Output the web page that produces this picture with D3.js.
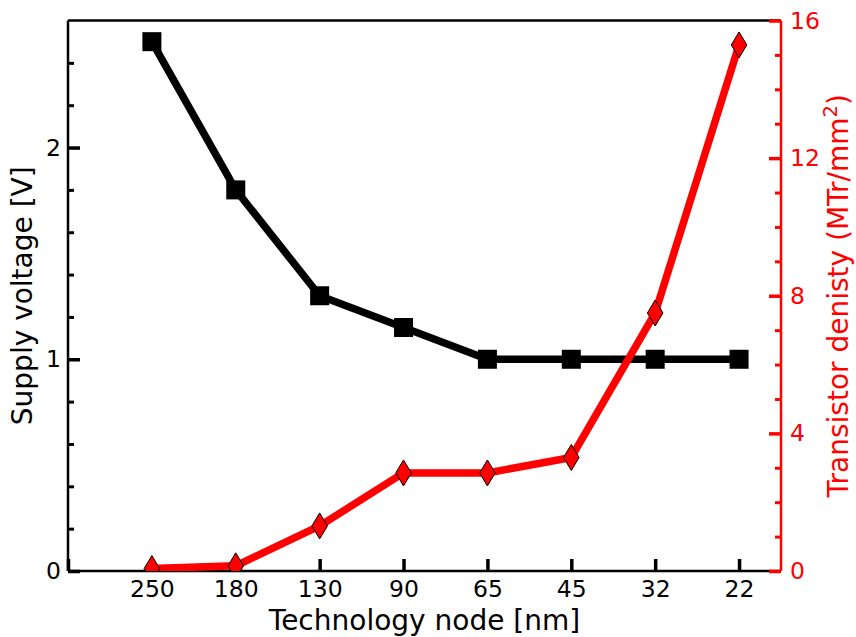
<!DOCTYPE html>
<html>
<head>
<meta charset="utf-8">
<script src="https://cdn.jsdelivr.net/npm/d3@7"></script>
<style>
  html, body { margin: 0; padding: 0; background: #fff; }
  text { font-family: "DejaVu Sans", sans-serif; }
</style>
</head>
<body>
<svg id="chart" width="856" height="637"></svg>
<script>
// Technology nodes (nm), left to right
const nodes = ["250", "180", "130", "90", "65", "45", "32", "22"];
// Supply voltage per node [V]
const supplyVoltage = [2.5, 1.8, 1.3, 1.15, 1.0, 1.0, 1.0, 1.0];
// Transistor density per node [MTr/mm²]
const density = [0.07, 0.15, 1.31, 2.85, 2.85, 3.30, 7.50, 15.29];
// Axis ticks
const voltageMajor = [0, 1, 2];
const voltageMinor = [0.2, 0.4, 0.6, 0.8, 1.2, 1.4, 1.6, 1.8, 2.2, 2.4];
const densityMajor = [0, 4, 8, 12, 16];
const densityMinor = [1, 2, 3, 5, 6, 7, 9, 10, 11, 13, 14, 15];
const xTickPositions = [-1, 0, 1, 2, 3, 4, 5, 6, 7];

const W = 856, H = 637;
const plot = { left: 68, right: 781, top: 20.5, bottom: 571 };
const RED = "#ff0000";
const tickFont = 23.5, titleFont = 28;

const svg = d3.select("#chart");

const x = d3.scaleLinear().domain([-1, 7.5]).range([plot.left, plot.right]);
const yL = d3.scaleLinear().domain([0, 2.6]).range([plot.bottom, plot.top]);
const yR = d3.scaleLinear().domain([0, 16]).range([plot.bottom, plot.top]);

svg.append("defs").append("clipPath").attr("id", "plotClip")
  .append("rect")
  .attr("x", plot.left).attr("y", plot.top)
  .attr("width", plot.right - plot.left).attr("height", plot.bottom - plot.top);

// ---- supply voltage series (black squares) ----
const gV = svg.append("g").attr("clip-path", "url(#plotClip)");
const vPts = nodes.map((n, i) => [i, supplyVoltage[i]]);
gV.append("path")
  .datum(vPts)
  .attr("fill", "none").attr("stroke", "#000").attr("stroke-width", 7.5)
  .attr("stroke-linejoin", "round")
  .attr("d", d3.line().x(d => x(d[0])).y(d => yL(d[1])));
const sq = 19;
gV.selectAll("rect.sq").data(vPts).join("rect").attr("class", "sq")
  .attr("x", d => x(d[0]) - sq / 2).attr("y", d => yL(d[1]) - sq / 2)
  .attr("width", sq).attr("height", sq).attr("fill", "#000");

// ---- left axis ----
const leftAxis = svg.append("g").attr("transform", `translate(${plot.left},0)`)
  .call(d3.axisLeft(yL).tickValues(voltageMajor).tickFormat(d3.format("d"))
    .tickSizeInner(-12).tickSizeOuter(0).tickPadding(7));
leftAxis.select(".domain").remove();
leftAxis.selectAll(".tick line").attr("stroke", "#000").attr("stroke-width", 3.5);
leftAxis.selectAll(".tick text").attr("font-size", tickFont).attr("fill", "#000")
  .attr("font-family", "DejaVu Sans");
const leftMinor = svg.append("g").attr("transform", `translate(${plot.left},0)`)
  .call(d3.axisLeft(yL).tickValues(voltageMinor).tickFormat("")
    .tickSizeInner(-6).tickSizeOuter(0));
leftMinor.select(".domain").remove();
leftMinor.selectAll(".tick line").attr("stroke", "#000").attr("stroke-width", 3);

// ---- bottom axis ----
const bottomAxis = svg.append("g").attr("transform", `translate(0,${plot.bottom})`)
  .call(d3.axisBottom(x).tickValues(xTickPositions)
    .tickFormat(d => (d >= 0 ? nodes[d] : ""))
    .tickSizeInner(-12).tickSizeOuter(0));
bottomAxis.select(".domain").remove();
bottomAxis.selectAll(".tick line").attr("stroke", "#000").attr("stroke-width", 3.5);
bottomAxis.selectAll(".tick text").attr("font-size", tickFont).attr("fill", "#000")
  .attr("font-family", "DejaVu Sans").attr("y", 26).attr("dy", 0);

// ---- frame (left, top, bottom spines) ----
const frame = svg.append("g").attr("stroke", "#000").attr("stroke-width", 2.5).attr("fill", "none");
frame.append("line").attr("x1", plot.left).attr("x2", plot.left).attr("y1", plot.top).attr("y2", plot.bottom);
frame.append("line").attr("x1", plot.left).attr("x2", plot.right).attr("y1", plot.top).attr("y2", plot.top);
frame.append("line").attr("x1", plot.left).attr("x2", plot.right).attr("y1", plot.bottom).attr("y2", plot.bottom);

// ---- transistor density series (red diamonds) ----
const gD = svg.append("g").attr("clip-path", "url(#plotClip)");
const dPts = nodes.map((n, i) => [i, density[i]]);
gD.append("path")
  .datum(dPts)
  .attr("fill", "none").attr("stroke", RED).attr("stroke-width", 7.5)
  .attr("stroke-linejoin", "round")
  .attr("d", d3.line().x(d => x(d[0])).y(d => yR(d[1])));
const dh = 13, dw = 7.8;
gD.selectAll("path.dm").data(dPts).join("path").attr("class", "dm")
  .attr("d", d => {
    const cx = x(d[0]), cy = yR(d[1]);
    return `M${cx},${cy - dh}L${cx + dw},${cy}L${cx},${cy + dh}L${cx - dw},${cy}Z`;
  })
  .attr("fill", RED).attr("stroke", "#000").attr("stroke-width", 1);

// ---- right axis (red) ----
const rightAxis = svg.append("g").attr("transform", `translate(${plot.right},0)`)
  .call(d3.axisRight(yR).tickValues(densityMajor).tickFormat(d3.format("d"))
    .tickSizeInner(-12).tickSizeOuter(0).tickPadding(9));
rightAxis.select(".domain").remove();
rightAxis.selectAll(".tick line").attr("stroke", RED).attr("stroke-width", 3.5);
rightAxis.selectAll(".tick text").attr("font-size", tickFont).attr("fill", RED)
  .attr("font-family", "DejaVu Sans");
const rightMinor = svg.append("g").attr("transform", `translate(${plot.right},0)`)
  .call(d3.axisRight(yR).tickValues(densityMinor).tickFormat("")
    .tickSizeInner(-6).tickSizeOuter(0));
rightMinor.select(".domain").remove();
rightMinor.selectAll(".tick line").attr("stroke", RED).attr("stroke-width", 3);
svg.append("line")
  .attr("x1", plot.right).attr("x2", plot.right).attr("y1", plot.top).attr("y2", plot.bottom)
  .attr("stroke", RED).attr("stroke-width", 2.5);

// ---- axis titles ----
const midY = (plot.top + plot.bottom) / 2;
svg.append("text")
  .attr("transform", `translate(32,${midY}) rotate(-90)`)
  .attr("text-anchor", "middle").attr("font-size", titleFont).attr("fill", "#000")
  .text("Supply voltage [V]");
svg.append("text")
  .attr("x", (plot.left + plot.right) / 2).attr("y", 630)
  .attr("text-anchor", "middle").attr("font-size", titleFont).attr("fill", "#000")
  .text("Technology node [nm]");
const rt = svg.append("text")
  .attr("transform", `translate(848,${midY}) rotate(-90)`)
  .attr("text-anchor", "middle").attr("font-size", titleFont).attr("fill", RED);
rt.append("tspan").text("Transistor denisty (MTr/mm");
rt.append("tspan").attr("dy", -11).attr("font-size", titleFont * 0.7).text("2");
rt.append("tspan").attr("dy", 11).text(")");
</script>
</body>
</html>
